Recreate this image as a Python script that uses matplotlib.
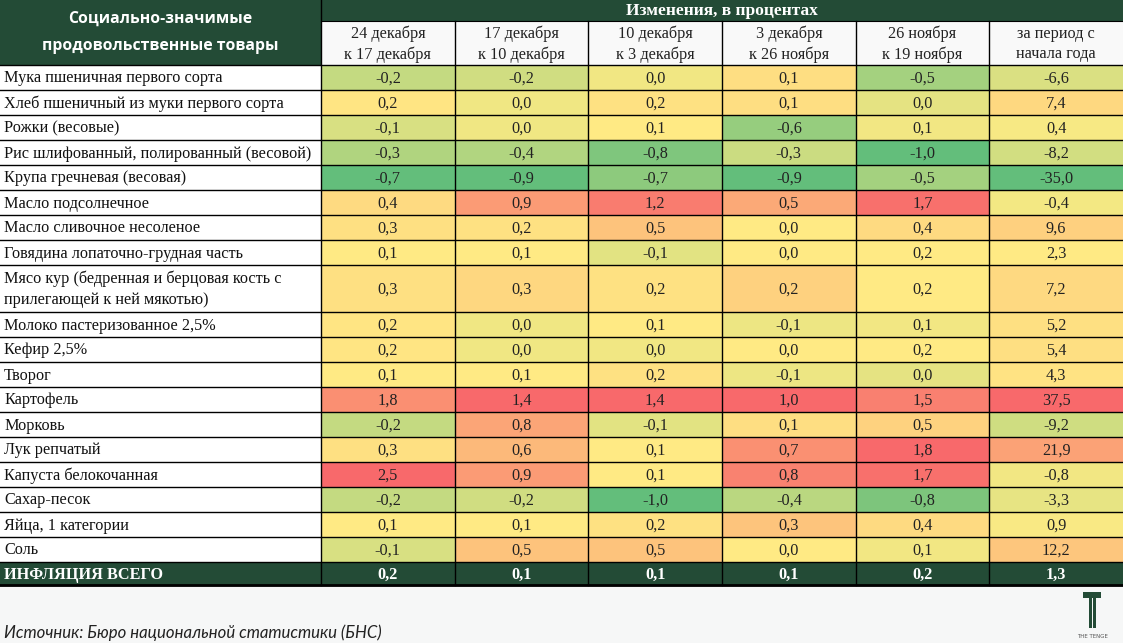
import numpy as np
import matplotlib
matplotlib.use("Agg")
import matplotlib.pyplot as plt
from matplotlib.patches import Rectangle
from matplotlib.colors import LinearSegmentedColormap, TwoSlopeNorm

# --- data ---
items = [
    "Мука пшеничная первого сорта",
    "Хлеб пшеничный из муки первого сорта",
    "Рожки (весовые)",
    "Рис шлифованный, полированный (весовой)",
    "Крупа гречневая (весовая)",
    "Масло подсолнечное",
    "Масло сливочное несоленое",
    "Говядина лопаточно-грудная часть",
    "Мясо кур (бедренная и берцовая кость с\nприлегающей к ней мякотью)",
    "Молоко пастеризованное 2,5%",
    "Кефир 2,5%",
    "Творог",
    "Картофель",
    "Морковь",
    "Лук репчатый",
    "Капуста белокочанная",
    "Сахар-песок",
    "Яйца, 1 категории",
    "Соль",
]
col_labels = [
    "24 декабря\nк 17 декабря",
    "17 декабря\nк 10 декабря",
    "10 декабря\nк 3 декабря",
    "3 декабря\nк 26 ноября",
    "26 ноября\nк 19 ноября",
    "за период с\nначала года",
]
dec24 = [-0.2, 0.2, -0.1, -0.3, -0.7, 0.4, 0.3, 0.1, 0.3, 0.2, 0.2, 0.1, 1.8, -0.2, 0.3, 2.5, -0.2, 0.1, -0.1]
dec17 = [-0.2, 0.0, 0.0, -0.4, -0.9, 0.9, 0.2, 0.1, 0.3, 0.0, 0.0, 0.1, 1.4, 0.8, 0.6, 0.9, -0.2, 0.1, 0.5]
dec10 = [0.0, 0.2, 0.1, -0.8, -0.7, 1.2, 0.5, -0.1, 0.2, 0.1, 0.0, 0.2, 1.4, -0.1, 0.1, 0.1, -1.0, 0.2, 0.5]
dec03 = [0.1, 0.1, -0.6, -0.3, -0.9, 0.5, 0.0, 0.0, 0.2, -0.1, 0.0, -0.1, 1.0, 0.1, 0.7, 0.8, -0.4, 0.3, 0.0]
nov26 = [-0.5, 0.0, 0.1, -1.0, -0.5, 1.7, 0.4, 0.2, 0.2, 0.1, 0.2, 0.0, 1.5, 0.5, 1.8, 1.7, -0.8, 0.4, 0.1]
ytd = [-6.6, 7.4, 0.4, -8.2, -35.0, -0.4, 9.6, 2.3, 7.2, 5.2, 5.4, 4.3, 37.5, -9.2, 21.9, -0.8, -3.3, 0.9, 12.2]
total_label = "ИНФЛЯЦИЯ ВСЕГО"
total = [0.2, 0.1, 0.1, 0.1, 0.2, 1.3]

columns = [dec24, dec17, dec10, dec03, nov26, ytd]

# --- layout (pixels) ---
W, H = 1123, 643
green = "#234b36"
serif = "Liberation Serif"
fs = 11.7
cmap = LinearSegmentedColormap.from_list("gyr", ["#63be7b", "#ffeb84", "#f8696b"])

label_w = 321
col_w = (W - label_w) / len(columns)
x_edges = label_w + col_w * np.arange(len(columns) + 1)
row_h = [47 if "\n" in s else 25 for s in items]
y_top = 65
y_edges = y_top + np.concatenate([[0], np.cumsum(row_h)])
tot_top, tot_bot = y_edges[-1], y_edges[-1] + 23


def fmt(v):
    return f"{v:.1f}".replace(".", ",")


fig = plt.figure(figsize=(W / 100, H / 100), dpi=100, facecolor="#f6f7f7")
ax = fig.add_axes([0, 0, 1, 1])
ax.set_xlim(0, W)
ax.set_ylim(H, 0)
ax.axis("off")

# table background
ax.add_patch(Rectangle((0, 0), W, tot_bot, color="white", lw=0))
# header
ax.add_patch(Rectangle((0, 0), W, 21, color=green, lw=0))
ax.add_patch(Rectangle((0, 0), label_w, y_top, color=green, lw=0))
ax.add_patch(Rectangle((label_w, 21), W - label_w, y_top - 21, color="#f9f9f9", lw=0))
ax.text(label_w / 2, 19, "Социально-значимые", ha="center", va="center",
        color="white", fontsize=11.3, fontweight="bold", family="Open Sans")
ax.text(label_w / 2, 46, "продовольственные товары", ha="center", va="center",
        color="white", fontsize=11.3, fontweight="bold", family="Open Sans")
ax.text((label_w + W) / 2, 11, "Изменения, в процентах", ha="center", va="center",
        color="white", fontsize=12.5, fontweight="bold", family=serif)
for j, lab in enumerate(col_labels):
    ax.text((x_edges[j] + x_edges[j + 1]) / 2, 44, lab, ha="center", va="center",
            color="#222222", fontsize=fs, family=serif, linespacing=1.4)

# body cells coloured per column (3-colour scale, midpoint = median)
for j, vals in enumerate(columns):
    v = np.array(vals)
    norm = TwoSlopeNorm(vmin=v.min(), vcenter=np.median(v), vmax=v.max())
    for i, val in enumerate(v):
        y0, y1 = y_edges[i], y_edges[i + 1]
        ax.add_patch(Rectangle((x_edges[j], y0), col_w, y1 - y0, color=cmap(norm(val)), lw=0))
        ax.text((x_edges[j] + x_edges[j + 1]) / 2, (y0 + y1) / 2 + 1, fmt(val), ha="center",
                va="center", color="#222222", fontsize=fs, family=serif)

for i, lab in enumerate(items):
    ax.text(4, (y_edges[i] + y_edges[i + 1]) / 2 + 1, lab, ha="left", va="center",
            color="#111111", fontsize=fs, family=serif, linespacing=1.4)

# total row
ax.add_patch(Rectangle((0, tot_top), W, tot_bot - tot_top, color=green, lw=0))
ax.text(4, (tot_top + tot_bot) / 2 + 1.5, total_label, ha="left", va="center", color="white",
        fontsize=fs, fontweight="bold", family=serif)
for j, val in enumerate(total):
    ax.text((x_edges[j] + x_edges[j + 1]) / 2, (tot_top + tot_bot) / 2 + 1.5, fmt(val),
            ha="center", va="center", color="white", fontsize=fs, fontweight="bold", family=serif)

# grid lines
for y in list(y_edges) + [tot_bot]:
    ax.plot([0, W], [y, y], color="black", lw=1.0)
ax.plot([label_w, W], [21, 21], color="black", lw=0.8)
ax.plot([0, W], [tot_bot, tot_bot], color="black", lw=2.0)
ax.plot([label_w, label_w], [0, tot_bot], color="black", lw=1.0)
for x in x_edges[1:-1]:
    ax.plot([x, x], [21, tot_bot], color="black", lw=1.0)

# footer
ax.text(4, 633, "Источник: Бюро национальной статистики (БНС)", ha="left", va="center",
        color="#222222", fontsize=12.1, style="italic", family="Lato")
ax.add_patch(Rectangle((1083, 592), 18, 6, color=green, lw=0))
ax.add_patch(Rectangle((1088.5, 598), 3.2, 30, color=green, lw=0))
ax.add_patch(Rectangle((1092.5, 598), 3.2, 30, color=green, lw=0))
ax.text(1092, 636, "THE TENGE", ha="center", va="center", color="#555555", fontsize=4, family="DejaVu Sans")

fig.savefig("out.png", dpi=100, facecolor=fig.get_facecolor())
